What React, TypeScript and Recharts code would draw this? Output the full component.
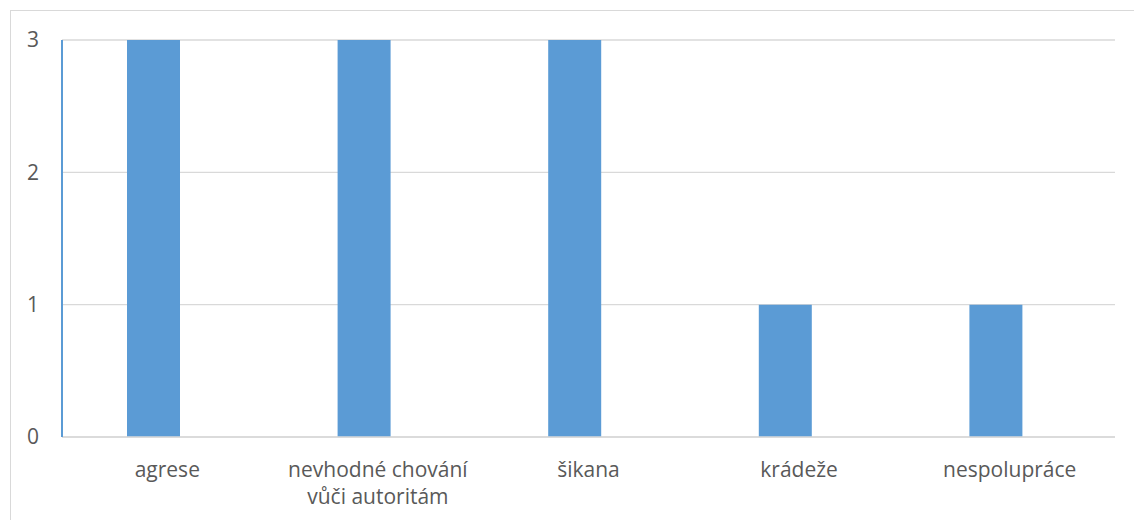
import { BarChart, Bar, XAxis, YAxis, CartesianGrid } from 'recharts';

const categories = ['agrese', 'nevhodné chování\nvůči autoritám', 'šikana', 'krádeže', 'nespolupráce'];
const counts = [3, 3, 3, 1, 1];
// Excel leaves room for an empty second series, which pushes the bars left of the label centres
const emptySeries = [null, null, null, null, null];
const yTicks = [0, 1, 2, 3];

const data = categories.map((name, i) => ({
  name,
  count: counts[i],
  empty: emptySeries[i],
}));

const FONT = '"Open Sans", sans-serif';
const TEXT = '#595959';
const GRID = '#d9d9d9';
const BLUE = '#5b9bd5';

function CategoryTick(props: any) {
  const { x, y, payload } = props;
  const lines = String(payload.value).split('\n');
  return (
    <text x={x} y={y} textAnchor="middle" fill={TEXT} fontSize={21} fontFamily={FONT}>
      {lines.map((line, i) => (
        <tspan key={i} x={x} dy={i === 0 ? 40 : 27}>
          {line}
        </tspan>
      ))}
    </text>
  );
}

export default function App() {
  return (
    <div
      style={{
        position: 'absolute',
        left: 0,
        top: 0,
        width: 1134,
        height: 520,
        overflow: 'hidden',
        background: '#fff',
      }}
    >
      <div
        style={{
          position: 'absolute',
          left: 10,
          top: 10,
          width: 1140,
          height: 540,
          border: `1px solid ${GRID}`,
        }}
      />
      <div style={{ position: 'absolute', left: 0, top: 0 }}>
        <BarChart
          width={1134}
          height={520}
          data={data}
          margin={{ top: 40, right: 19, left: 0, bottom: 0 }}
          barGap={-25}
        >
          <CartesianGrid horizontal vertical={false} stroke={GRID} strokeWidth={1.3} />
          <XAxis
            dataKey="name"
            height={83}
            axisLine={{ stroke: GRID, strokeWidth: 1.3 }}
            tickLine={false}
            tickSize={0}
            tickMargin={0}
            interval={0}
            tick={<CategoryTick />}
          />
          <YAxis
            width={62}
            domain={[0, 3]}
            ticks={yTicks}
            axisLine={{ stroke: BLUE, strokeWidth: 2 }}
            tickLine={false}
            tickSize={0}
            tickMargin={23}
            tick={{ fill: TEXT, fontSize: 21, fontFamily: FONT }}
          />
          <Bar dataKey="count" fill={BLUE} barSize={53} isAnimationActive={false} />
          <Bar dataKey="empty" fill={BLUE} barSize={53} isAnimationActive={false} />
        </BarChart>
      </div>
    </div>
  );
}
